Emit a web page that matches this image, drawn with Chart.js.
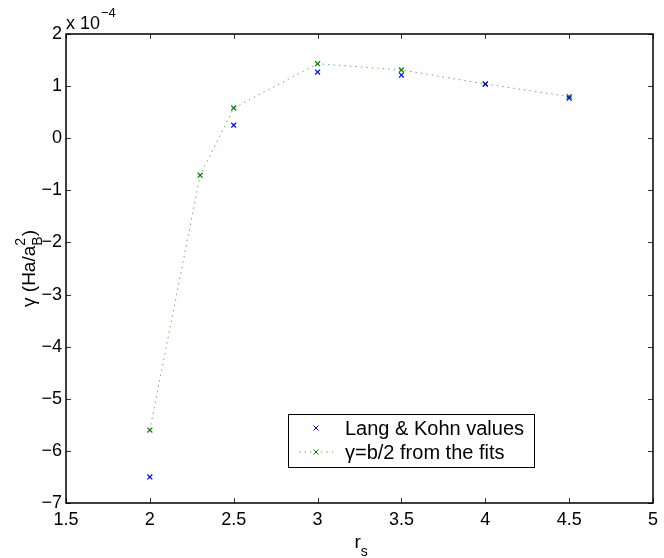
<!DOCTYPE html>
<html>
<head>
<meta charset="utf-8">
<script src="https://cdn.jsdelivr.net/npm/chart.js@4.4.0/dist/chart.umd.min.js"></script>
<style>
html, body { margin: 0; padding: 0; background: #fff; }
</style>
</head>
<body>
<canvas id="chart" width="664" height="558"></canvas>
<script>
// values, y in units of 1e-4 Ha/aB^2
const rsLangKohn = [2, 2.5, 3, 3.5, 4, 4.5];
const gammaLangKohn = [-6.5, 0.25, 1.27, 1.21, 1.04, 0.77];
const rsFits = [2, 2.3, 2.5, 3, 3.5, 4, 4.5];
const gammaFits = [-5.6, -0.71, 0.58, 1.43, 1.31, 1.04, 0.8];

const xTicks = [1.5, 2, 2.5, 3, 3.5, 4, 4.5, 5];
const yTicks = [-7, -6, -5, -4, -3, -2, -1, 0, 1, 2];
const yExponent = -4;

const seriesLabels = ["Lang & Kohn values", "\u03b3=b/2 from the fits"];
const blue = "#0000ff";
const green = "#008000";
const FONT = "'Liberation Sans', Helvetica, Arial, sans-serif";

function minus(v) {
	return v < 0 ? "\u2212" + Math.abs(v) : String(v);
}

// MATLAB style box: frame, inward ticks, legend, axis labels
const matlabBox = {
	id: "matlabBox",
	afterDraw: function (chart) {
		const ctx = chart.ctx;
		const a = chart.chartArea;
		const xs = chart.scales.x;
		const ys = chart.scales.y;
		ctx.save();

		// inward ticks
		ctx.strokeStyle = "#333";
		ctx.lineWidth = 1;
		ctx.beginPath();
		xTicks.forEach(function (t) {
			const px = Math.round(xs.getPixelForValue(t)) + 0.5;
			ctx.moveTo(px, a.bottom); ctx.lineTo(px, a.bottom - 5);
			ctx.moveTo(px, a.top); ctx.lineTo(px, a.top + 5);
		});
		yTicks.forEach(function (t) {
			const py = Math.round(ys.getPixelForValue(t)) + 0.5;
			ctx.moveTo(a.left, py); ctx.lineTo(a.left + 5, py);
			ctx.moveTo(a.right, py); ctx.lineTo(a.right - 5, py);
		});
		ctx.stroke();

		// frame
		ctx.strokeStyle = "#000";
		ctx.lineWidth = 1.5;
		ctx.strokeRect(a.left, a.top, a.right - a.left, a.bottom - a.top);

		// legend
		const lx = 288, ly = 414, lw = 246, lh = 53;
		ctx.fillStyle = "#fff";
		ctx.fillRect(lx, ly, lw, lh);
		ctx.strokeStyle = "#000";
		ctx.lineWidth = 1;
		ctx.strokeRect(lx + 0.5, ly + 0.5, lw, lh);
		const rows = [ly + 14, ly + 38];
		ctx.font = "20px " + FONT;
		ctx.textBaseline = "middle";
		ctx.textAlign = "left";
		chart.data.datasets.forEach(function (ds, i) {
			const y = rows[i];
			if (ds.showLine) {
				ctx.save();
				ctx.strokeStyle = ds.borderColor;
				ctx.setLineDash(ds.borderDash);
				ctx.beginPath();
				ctx.moveTo(lx + 11, y); ctx.lineTo(lx + 45, y);
				ctx.stroke();
				ctx.restore();
			}
			ctx.strokeStyle = ds.pointBorderColor;
			ctx.lineWidth = 1;
			ctx.beginPath();
			const cx = lx + 28, r = 2.5;
			ctx.moveTo(cx - r, y - r); ctx.lineTo(cx + r, y + r);
			ctx.moveTo(cx - r, y + r); ctx.lineTo(cx + r, y - r);
			ctx.stroke();
			ctx.fillStyle = "#000";
			ctx.fillText(ds.label, lx + 57, y + 1);
		});

		// exponent above the y axis
		ctx.fillStyle = "#000";
		ctx.textBaseline = "alphabetic";
		ctx.font = "18px " + FONT;
		ctx.fillText("x 10", a.left, a.top - 5);
		const ew = ctx.measureText("x 10").width;
		ctx.font = "13px " + FONT;
		ctx.fillText(minus(yExponent), a.left + ew + 1, a.top - 17);

		// x label r_s
		const cxm = (a.left + a.right) / 2;
		ctx.font = "19px " + FONT;
		const rw = ctx.measureText("r").width;
		ctx.fillText("r", cxm - 5, 548);
		ctx.font = "14px " + FONT;
		ctx.fillText("s", cxm - 5 + rw, 556);

		// y label gamma (Ha/a_B^2)
		ctx.save();
		ctx.translate(35, (a.top + a.bottom) / 2);
		ctx.rotate(-Math.PI / 2);
		ctx.font = "19px " + FONT;
		const p1 = "\u03b3 (Ha/a";
		const w1 = ctx.measureText(p1).width;
		ctx.font = "14px " + FONT;
		const w2 = Math.max(ctx.measureText("2").width, ctx.measureText("B").width);
		ctx.font = "19px " + FONT;
		const w3 = ctx.measureText(")").width;
		const start = -(w1 + w2 + w3) / 2;
		ctx.fillText(p1, start, 0);
		ctx.fillText(")", start + w1 + w2, 0);
		ctx.font = "14px " + FONT;
		ctx.fillText("2", start + w1, -10);
		ctx.fillText("B", start + w1, 7);
		ctx.restore();

		ctx.restore();
	}
};

new Chart(document.getElementById("chart"), {
	type: "scatter",
	data: {
		datasets: [
			{
				label: seriesLabels[0],
				data: rsLangKohn.map(function (x, i) { return { x: x, y: gammaLangKohn[i] }; }),
				showLine: false,
				pointStyle: "crossRot",
				pointRadius: 3.5,
				pointBorderWidth: 1.2,
				pointBorderColor: blue,
				borderColor: blue
			},
			{
				label: seriesLabels[1],
				data: rsFits.map(function (x, i) { return { x: x, y: gammaFits[i] }; }),
				showLine: true,
				borderColor: "rgba(0,128,0,0.6)",
				borderWidth: 1,
				borderDash: [1.5, 4],
				pointStyle: "crossRot",
				pointRadius: 3.5,
				pointBorderWidth: 1.2,
				pointBorderColor: green,
				tension: 0
			}
		]
	},
	options: {
		responsive: false,
		animation: false,
		layout: { padding: { top: 34, right: 6, left: 0, bottom: 0 } },
		plugins: { legend: { display: false }, tooltip: { enabled: false } },
		scales: {
			x: {
				type: "linear",
				min: 1.5,
				max: 5,
				afterBuildTicks: function (s) { s.ticks = xTicks.map(function (v) { return { value: v }; }); },
				afterFit: function (s) { s.height = 55; },
				grid: { display: false, drawTicks: false },
				border: { display: false },
				ticks: {
					color: "#000",
					padding: 6,
					maxRotation: 0,
					font: { family: FONT, size: 18 },
					callback: function (v) { return String(v); }
				}
			},
			y: {
				min: -7,
				max: 2,
				afterBuildTicks: function (s) { s.ticks = yTicks.map(function (v) { return { value: v }; }); },
				afterFit: function (s) { s.width = 66; },
				grid: { display: false, drawTicks: false },
				border: { display: false },
				ticks: {
					color: "#000",
					padding: 4,
					font: { family: FONT, size: 18 },
					callback: function (v) { return minus(v); }
				}
			}
		}
	},
	plugins: [matlabBox]
});
</script>
</body>
</html>
